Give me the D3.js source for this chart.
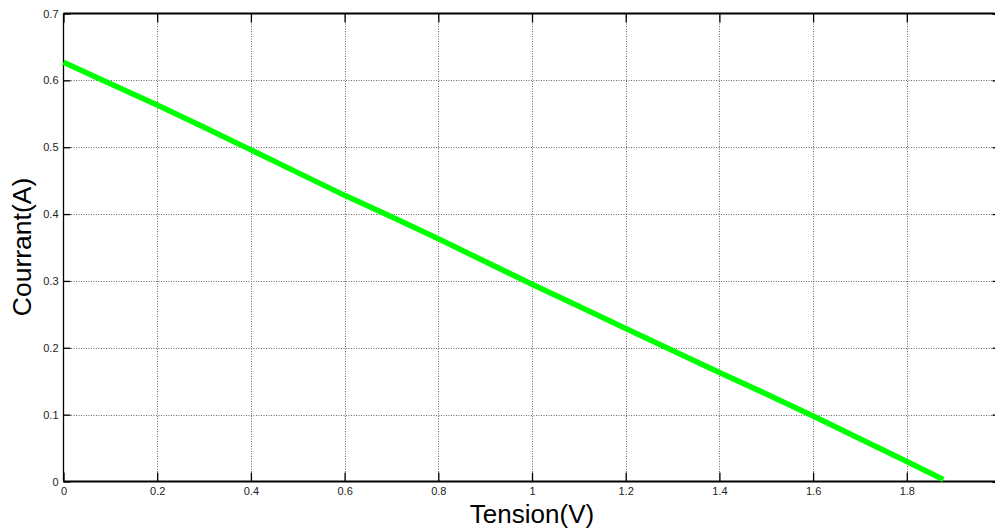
<!DOCTYPE html>
<html><head><meta charset="utf-8">
<script src="https://cdn.jsdelivr.net/npm/d3@7/dist/d3.min.js"></script>
<style>body{margin:0;background:#fff;} svg{display:block;}</style>
</head><body>
<svg id="c" width="995" height="529"></svg>
<script>
const tension = [0, 0.1, 0.2, 0.3, 0.4, 0.5, 0.6, 0.7, 0.8, 0.9, 1.0, 1.1, 1.2, 1.3, 1.4, 1.5, 1.6, 1.7, 1.8, 1.878];
const courant = [0.627, 0.595, 0.563, 0.530, 0.496, 0.462, 0.428, 0.396, 0.363, 0.329, 0.295, 0.262, 0.229, 0.196, 0.163, 0.131, 0.098, 0.064, 0.030, 0.003];
const xTicks = [0, 0.2, 0.4, 0.6, 0.8, 1, 1.2, 1.4, 1.6, 1.8, 2];
const yTicks = [0, 0.1, 0.2, 0.3, 0.4, 0.5, 0.6, 0.7];

const svg = d3.select("#c");
const L = 63.5, R = 1000.5, T = 13.5, B = 481.5;
const x = d3.scaleLinear().domain([0, 2]).range([L, R]);
const y = d3.scaleLinear().domain([0, 0.7]).range([B, T]);
const font = "Liberation Sans, Arial, sans-serif";

// grid
const g = svg.append("g");
g.selectAll("line.vx").data(xTicks.slice(1, -1)).enter().append("line")
  .attr("x1", d => Math.round(x(d)) + 0.5).attr("x2", d => Math.round(x(d)) + 0.5)
  .attr("y1", T).attr("y2", B)
  .attr("stroke", "#666").attr("stroke-width", 1).attr("stroke-dasharray", "1,1.5");
g.selectAll("line.hy").data(yTicks.slice(1, -1)).enter().append("line")
  .attr("y1", d => Math.round(y(d)) + 0.5).attr("y2", d => Math.round(y(d)) + 0.5)
  .attr("x1", L).attr("x2", R)
  .attr("stroke", "#666").attr("stroke-width", 1).attr("stroke-dasharray", "1,1.5");

// axes with inward ticks
const fmt = d => d3.format("~g")(d);
const xb = svg.append("g").attr("transform", `translate(0,${B})`)
  .call(d3.axisBottom(x).tickValues(xTicks.slice(0, -1)).tickSize(-9).tickPadding(6).tickFormat(fmt));
const xt = svg.append("g").attr("transform", `translate(0,${T})`)
  .call(d3.axisTop(x).tickValues(xTicks).tickSize(-9).tickFormat(""));
const yl = svg.append("g").attr("transform", `translate(${L},0)`)
  .call(d3.axisLeft(y).tickValues(yTicks).tickSize(-7).tickPadding(5).tickFormat(fmt));
const yr = svg.append("g").attr("transform", `translate(${R},0)`)
  .call(d3.axisRight(y).tickValues(yTicks).tickSize(-8).tickFormat(""));
[xb, xt, yl, yr].forEach(a => {
  a.selectAll(".tick line").attr("stroke", "#000").attr("stroke-width", 1.3);
  a.selectAll("text").attr("font-family", font).attr("font-size", 11).attr("fill", "#222");
});
xb.select(".domain").attr("d", `M${L},0H${R}`).attr("stroke", "#000").attr("stroke-width", 2);
xt.select(".domain").attr("d", `M${L},0H${R}`).attr("stroke", "#000").attr("stroke-width", 2);
yl.select(".domain").attr("d", `M0,${B}V${T}`).attr("stroke", "#000").attr("stroke-width", 1.3);
yr.select(".domain").attr("stroke", "#000").attr("stroke-width", 1.3);

// line
const line = d3.line().x((d, i) => x(tension[i])).y(d => y(d));
svg.append("path").datum(courant).attr("d", line)
  .attr("fill", "none").attr("stroke", "#00ff00").attr("stroke-width", 5.5)
  .attr("stroke-linejoin", "round");

// titles
svg.append("text").attr("x", x(1)).attr("y", 523).attr("text-anchor", "middle")
  .attr("font-family", font).attr("font-size", 26).attr("fill", "#000").text("Tension(V)");
svg.append("text").attr("transform", `translate(31,247) rotate(-90)`)
  .attr("text-anchor", "middle").attr("font-family", font).attr("font-size", 26.5)
  .attr("fill", "#000").text("Courrant(A)");
</script>
</body></html>
